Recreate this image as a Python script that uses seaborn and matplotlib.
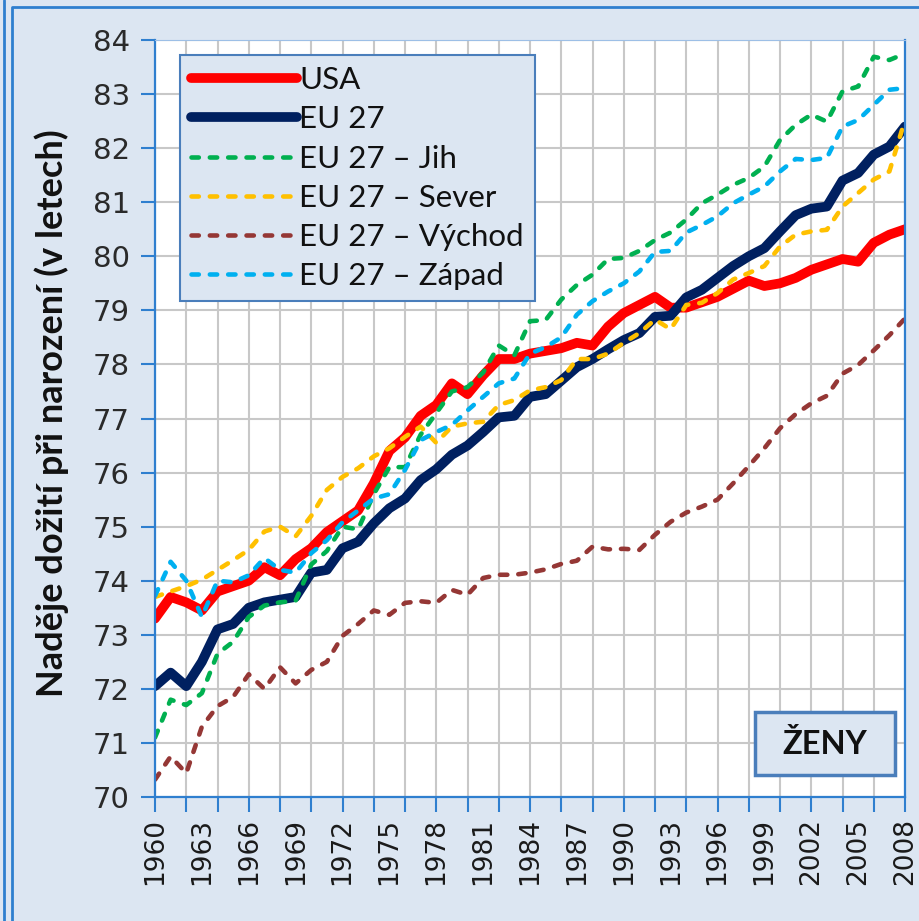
import matplotlib
matplotlib.use('Agg')
import matplotlib.pyplot as plt
from matplotlib.patches import Rectangle
from matplotlib.lines import Line2D
import pandas as pd
import seaborn as sns

# nadeje doziti pri narozeni - zeny, 1960-2008
years = list(range(1960, 2009))

usa = [73.3, 73.7, 73.6, 73.45, 73.8, 73.9, 74.0, 74.25, 74.1, 74.4,
       74.6, 74.9, 75.1, 75.3, 75.8, 76.4, 76.65, 77.05, 77.25, 77.65,
       77.45, 77.8, 78.1, 78.1, 78.2, 78.25, 78.3, 78.4, 78.35, 78.7,
       78.95, 79.1, 79.25, 79.05, 79.05, 79.15, 79.25, 79.4, 79.55, 79.45,
       79.5, 79.6, 79.75, 79.85, 79.95, 79.9, 80.25, 80.4, 80.5]
eu27 = [72.05, 72.3, 72.05, 72.5, 73.1, 73.2, 73.5, 73.6, 73.65, 73.7,
        74.15, 74.2, 74.6, 74.72, 75.06, 75.34, 75.52, 75.86, 76.06, 76.33,
        76.5, 76.75, 77.02, 77.05, 77.4, 77.45, 77.7, 77.95, 78.1, 78.28,
        78.45, 78.58, 78.88, 78.9, 79.24, 79.38, 79.6, 79.82, 80.0, 80.15,
        80.46, 80.76, 80.88, 80.92, 81.4, 81.54, 81.88, 82.03, 82.4]
eu_jih = [71.1, 71.8, 71.7, 71.92, 72.65, 72.87, 73.33, 73.54, 73.6, 73.63,
          74.3, 74.55, 75.0, 74.95, 75.6, 76.1, 76.1, 76.7, 77.1, 77.5,
          77.58, 77.85, 78.35, 78.17, 78.8, 78.82, 79.2, 79.47, 79.66, 79.95,
          79.97, 80.1, 80.3, 80.44, 80.68, 80.98, 81.14, 81.32, 81.45, 81.66,
          82.15, 82.43, 82.62, 82.49, 83.05, 83.14, 83.69, 83.63, 83.75]
eu_sever = [73.7, 73.8, 73.9, 74.02, 74.2, 74.38, 74.57, 74.91, 75.0, 74.82,
            75.2, 75.68, 75.92, 76.08, 76.3, 76.45, 76.66, 76.85, 76.55, 76.85,
            76.91, 76.94, 77.25, 77.34, 77.52, 77.58, 77.71, 78.1, 78.1, 78.2,
            78.4, 78.58, 78.83, 78.65, 79.1, 79.14, 79.32, 79.57, 79.69, 79.82,
            80.18, 80.4, 80.46, 80.49, 80.92, 81.17, 81.42, 81.57, 82.52]
eu_vychod = [70.32, 70.75, 70.44, 71.3, 71.68, 71.85, 72.27, 72.0, 72.4, 72.1,
             72.35, 72.5, 72.98, 73.2, 73.45, 73.37, 73.59, 73.62, 73.59, 73.83,
             73.74, 74.05, 74.11, 74.11, 74.15, 74.21, 74.31, 74.37, 74.63, 74.58,
             74.59, 74.57, 74.85, 75.09, 75.26, 75.37, 75.5, 75.8, 76.12, 76.45,
             76.82, 77.08, 77.28, 77.42, 77.83, 77.99, 78.26, 78.54, 78.85]
eu_zapad = [73.72, 74.35, 74.0, 73.33, 74.0, 73.97, 74.1, 74.42, 74.2, 74.15,
            74.51, 74.75, 75.08, 75.3, 75.52, 75.6, 76.05, 76.6, 76.75, 76.88,
            77.15, 77.4, 77.65, 77.74, 78.2, 78.32, 78.5, 78.92, 79.17, 79.35,
            79.5, 79.72, 80.08, 80.1, 80.44, 80.58, 80.74, 80.98, 81.14, 81.29,
            81.57, 81.8, 81.78, 81.82, 82.4, 82.52, 82.8, 83.08, 83.11]

names = ['USA', 'EU 27', 'EU 27 – Jih', 'EU 27 – Sever', 'EU 27 – Východ', 'EU 27 – Západ']
series = [usa, eu27, eu_jih, eu_sever, eu_vychod, eu_zapad]
colors = ['#ff0000', '#002060', '#00b050', '#ffc000', '#953735', '#00b0f0']
thick = [True, True, False, False, False, False]

sns.set_theme(style='white')
plt.rcParams['font.family'] = ['DejaVu Sans']
plt.rcParams['axes.unicode_minus'] = False

bg = '#dce6f2'
blue = '#2f7fcf'

fig = plt.figure(figsize=(9.2, 9.21), dpi=100, facecolor=bg)
ax = fig.add_axes([155 / 920, 1 - 797 / 921, 750 / 920, 757 / 921])
ax.set_facecolor('white')

for name, vals, c, tk in zip(names, series, colors, thick):
    df = pd.DataFrame({'rok': years, 'hodnota': vals})
    sns.lineplot(data=df, x='rok', y='hodnota', color=c, ax=ax, label=name,
                 linewidth=7.0 if tk else 3.3,
                 solid_capstyle='round', solid_joinstyle='round',
                 dash_capstyle='round', dash_joinstyle='round')
    if not tk:
        ax.lines[-1].set_dashes((1.6, 2.4))

ax.set_xlim(1960, 2008)
ax.set_ylim(70, 84)
ax.set_xlabel('')
ax.set_ylabel('')

# carky po 2 letech, popisky po 3 letech
ax.xaxis.remove_overlapping_locs = False
ax.set_xticks(range(1960, 2009, 2))
ax.set_xticklabels([])
ax.set_xticks(range(1960, 2009, 3), minor=True)
ax.set_xticklabels([str(y) for y in range(1960, 2009, 3)], minor=True)
ax.set_yticks(range(70, 85))

ax.tick_params(axis='x', which='major', direction='out', length=11, width=1.5,
               color=blue, bottom=True)
ax.tick_params(axis='x', which='minor', length=0, pad=15, labelsize=19,
               labelrotation=90, labelcolor='#1a1a1a', bottom=True)
ax.tick_params(axis='y', direction='out', length=10, width=1.5, color=blue,
               left=True, pad=8, labelsize=21, labelcolor='#2a2a2a')

ax.grid(True, which='major', axis='both', color='#c8c8c8', linewidth=1.5)
ax.set_axisbelow(True)
for side in ['left', 'bottom', 'right', 'top']:
    ax.spines[side].set_color(blue)
    ax.spines[side].set_linewidth(1.6)
ax.spines['top'].set_linewidth(0.8)
ax.spines['top'].set_color('#9dbfe6')

leg = ax.legend(loc='upper left', bbox_to_anchor=(0.033, 0.980), borderaxespad=0,
                frameon=True, fancybox=False, facecolor=bg, edgecolor='#4a7ebb',
                framealpha=1, handlelength=3.4, handletextpad=0.08,
                labelspacing=0.36, borderpad=0.35,
                prop={'family': ['Lato', 'DejaVu Sans'], 'size': 22.5})
leg.get_frame().set_linewidth(1.5)
for t in leg.get_texts():
    t.set_color('#111111')

ax.add_patch(Rectangle((0.8, 0.029), 0.187, 0.083, transform=ax.transAxes,
                       facecolor=bg, edgecolor='#4a7ebb', linewidth=2.5, zorder=5))
ax.text(0.8935, 0.0705, 'ŽENY', transform=ax.transAxes, ha='center', va='center',
        fontsize=23.5, fontweight='bold', family=['Lato', 'DejaVu Sans'],
        color='#111111', zorder=6)

fig.text(52 / 920, 1 - 413 / 921, 'Naděje dožití při narození (v letech)',
         rotation=90, ha='center', va='center', fontsize=26, fontweight='bold',
         family=['Lato', 'DejaVu Sans'], color='#111111')

# okraj snimku vlevo
fig.add_artist(Line2D([4 / 920, 4 / 920], [0, 1], transform=fig.transFigure,
                      color=blue, linewidth=2))
fig.add_artist(Line2D([12 / 920, 12 / 920, 1], [0, 1 - 7 / 921, 1 - 7 / 921],
                      transform=fig.transFigure, color=blue, linewidth=2))

fig.savefig('out.png', dpi=100, facecolor=bg)
